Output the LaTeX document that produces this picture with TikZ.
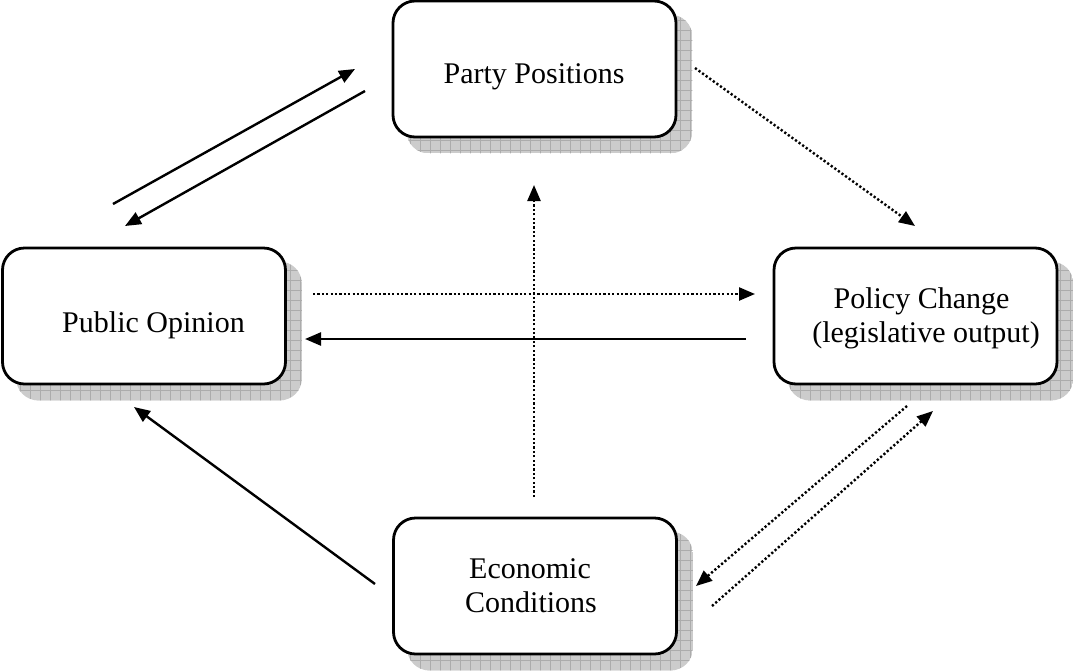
\documentclass[tikz,border=0pt]{standalone}
\usepackage{fontspec}
\setmainfont{Liberation Serif}
\usetikzlibrary{arrows.meta,backgrounds,calc}
\definecolor{shfill}{RGB}{204,204,204}
\definecolor{shgrid}{RGB}{172,172,172}
\tikzset{
  box/.style={draw=black,line width=2.8pt,fill=white,rounded corners=22pt,
    minimum width=283pt,minimum height=136pt,inner sep=0pt},
  lbl/.style={anchor=base,inner sep=0pt,font=\fontsize{30}{34}\selectfont},
  solidarrow/.style={line width=2.4pt,-{Triangle[length=16pt,width=13pt]}},
  dotarrow/.style={line width=2.4pt,dash pattern=on 2.2pt off 2.2pt,
    -{Triangle[length=16pt,width=13pt]}},
  gridline/.style={shgrid,line width=0.9pt},
}
\newcommand{\boxshadow}[1]{%
  \begin{scope}
    \clip[rounded corners=22pt] ($(#1.north west)+(15,15)$) rectangle ($(#1.south east)+(15,15)$);
    \fill[shfill] ($(#1.north west)+(15,15)$) rectangle ($(#1.south east)+(15,15)$);
    \foreach \k in {0,10,...,1080} {\draw[gridline] (\k,0) -- (\k,680);}
    \foreach \k in {0,10,...,680} {\draw[gridline] (0,\k) -- (1080,\k);}
  \end{scope}}
\begin{document}
\begin{tikzpicture}[x=1pt,y=-1pt]
\useasboundingbox (0,0) rectangle (1073,670);

% boxes
\node[box] (pp) at (534.5,69) {};
\node[box] (po) at (144,316) {};
\node[box] (pc) at (915.5,316) {};
\node[box] (ec) at (535,586) {};

\begin{scope}[on background layer]
  \boxshadow{pp}
  \boxshadow{po}
  \boxshadow{pc}
  \boxshadow{ec}
\end{scope}

% labels
\node[lbl] (tpp) at (534,83) {Party Positions};
\node[lbl] (tpo) at (153.5,332) {Public Opinion};
\node[lbl] (tpc1) at (921.5,308) {Policy Change};
\node[lbl] (tpc2) at (926,342) {(legislative output)};
\node[lbl] (tec1) at (530,578) {Economic};
\node[lbl] (tec2) at (531,612) {Conditions};

% connector end points
\coordinate (a1s) at (113,204);  \coordinate (a1e) at (355,69);
\coordinate (a2s) at (365,91);   \coordinate (a2e) at (125,226);
\coordinate (a3s) at (695,68);   \coordinate (a3e) at (915,226);
\coordinate (a4s) at (313,294);  \coordinate (a4e) at (755,294);
\coordinate (a5s) at (746,339);  \coordinate (a5e) at (305,339);
\coordinate (a6s) at (534,497);  \coordinate (a6e) at (534,185);
\coordinate (a7s) at (375,584);  \coordinate (a7e) at (134,407);
\coordinate (a8s) at (907,406);  \coordinate (a8e) at (696,586);
\coordinate (a9s) at (712,606);  \coordinate (a9e) at (933,411);

% connectors
\draw[solidarrow] (a1s) -- (a1e);
\draw[solidarrow] (a2s) -- (a2e);
\draw[dotarrow] (a3s) -- (a3e);
\draw[dotarrow] (a4s) -- (a4e);
\draw[solidarrow] (a5s) -- (a5e);
\draw[dotarrow] (a6s) -- (a6e);
\draw[solidarrow] (a7s) -- (a7e);
\draw[dotarrow] (a8s) -- (a8e);
\draw[dotarrow] (a9s) -- (a9e);
\end{tikzpicture}
\end{document}
